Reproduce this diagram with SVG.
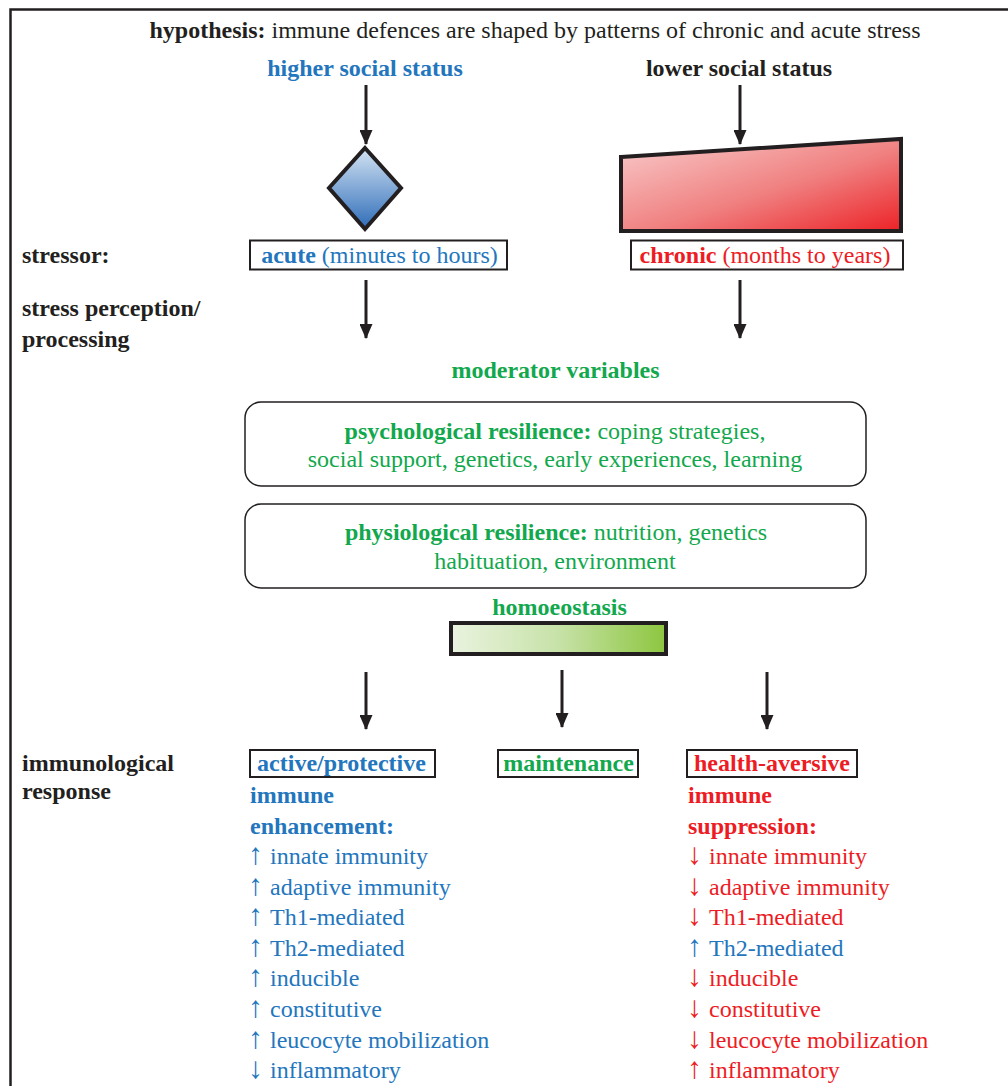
<svg xmlns="http://www.w3.org/2000/svg" width="1008" height="1086" viewBox="0 0 1008 1086">
<style>
text{font-family:"Liberation Serif","Times New Roman","DejaVu Serif",serif;font-size:24px;fill:#231f20}
.b{font-weight:bold}
.blue{fill:#2376bd}
.red{fill:#ed1c24}
.green{fill:#12a84d}
.mid{text-anchor:middle}
.arr{font-size:30px}
.box{fill:#fff;stroke:#231f20;stroke-width:2}
.rbox{fill:#fff;stroke:#231f20;stroke-width:1.5}
.conn{stroke:#231f20;stroke-width:3;fill:none;marker-end:url(#ah)}
</style>
<defs>
<marker id="ah" markerUnits="userSpaceOnUse" markerWidth="15" markerHeight="13" refX="14" refY="6.5" orient="auto" viewBox="0 0 15 13">
<path d="M0,0 L15,6.5 L0,13 Z" fill="#231f20"/>
</marker>
<linearGradient id="gBlue" x1="0" y1="0" x2="0" y2="1">
<stop offset="0" stop-color="#d4e4f3"/>
<stop offset="1" stop-color="#2e6cb8"/>
</linearGradient>
<linearGradient id="gRed" x1="0" y1="0" x2="1" y2="1">
<stop offset="0" stop-color="#f9cccc"/>
<stop offset="0.55" stop-color="#f08080"/>
<stop offset="1" stop-color="#ec2227"/>
</linearGradient>
<linearGradient id="gGreen" x1="0" y1="0" x2="1" y2="0">
<stop offset="0" stop-color="#eaf3df"/>
<stop offset="0.5" stop-color="#c7e2a8"/>
<stop offset="1" stop-color="#8dc63f"/>
</linearGradient>
</defs>
<rect width="1008" height="1086" fill="#fff"/>
<path d="M10.5,1086 V9.5 H1008" fill="none" stroke="#231f20" stroke-width="2.5"/>

<g id="hypothesis"><text x="535" y="38" class="mid"><tspan class="b">hypothesis:</tspan> immune defences are shaped by patterns of chronic and acute stress</text></g>
<g id="higher"><text x="365" y="76" class="mid b blue">higher social status</text></g>
<g id="lower"><text x="739" y="76" class="mid b">lower social status</text></g>

<g id="diamond"><polygon points="365,148 401,188 365,229 329,188" fill="url(#gBlue)" stroke="#231f20" stroke-width="4" stroke-linejoin="miter"/></g>
<g id="trapezoid"><polygon points="621,157 901,139 901,231 621,231" fill="url(#gRed)" stroke="#231f20" stroke-width="4"/></g>

<g id="labels-left">
<text x="22" y="263" class="b">stressor:</text>
<text x="22" y="316" class="b">stress perception/</text>
<text x="22" y="347" class="b">processing</text>
<text x="22" y="771" class="b">immunological</text>
<text x="22" y="799" class="b">response</text>
</g>

<g id="acute"><rect x="250" y="240.5" width="257" height="29" class="box"/>
<text x="379.5" y="263" class="mid blue"><tspan class="b">acute</tspan> (minutes to hours)</text></g>
<g id="chronic"><rect x="631" y="240.5" width="272" height="29" class="box"/>
<text x="765" y="263" class="mid red"><tspan class="b">chronic</tspan> (months to years)</text></g>

<g id="moderator"><text x="555.5" y="378" class="mid b green">moderator variables</text></g>
<g id="psych"><rect x="245" y="402" width="621" height="84" rx="16" class="rbox"/>
<text x="555" y="439" class="mid green"><tspan class="b">psychological resilience:</tspan> coping strategies,</text>
<text x="555" y="467" class="mid green">social support, genetics, early experiences, learning</text></g>
<g id="physio"><rect x="245" y="504" width="621" height="84" rx="16" class="rbox"/>
<text x="556" y="540" class="mid green"><tspan class="b">physiological resilience:</tspan> nutrition, genetics</text>
<text x="555" y="569" class="mid green">habituation, environment</text></g>

<g id="homoeostasis"><text x="559.5" y="615" class="mid b green">homoeostasis</text>
<rect x="451" y="623" width="215" height="31" fill="url(#gGreen)" stroke="#231f20" stroke-width="4"/></g>

<g id="active"><rect x="250" y="750" width="185" height="27" class="box"/><text x="341.5" y="771" class="mid b blue">active/protective</text></g>
<g id="maintenance"><rect x="498" y="750" width="140" height="27" class="box"/><text x="568.5" y="771" class="mid b green">maintenance</text></g>
<g id="aversive"><rect x="687" y="750" width="170" height="27" class="box"/><text x="772" y="771" class="mid b red">health-aversive</text></g>

<g id="enhancement">
<text x="250" y="803" class="b blue">immune</text>
<text x="250" y="834" class="b blue">enhancement:</text>
<text y="864" class="blue"><tspan x="248" class="arr">↑</tspan><tspan x="270">innate immunity</tspan></text>
<text y="895" class="blue"><tspan x="248" class="arr">↑</tspan><tspan x="270">adaptive immunity</tspan></text>
<text y="925" class="blue"><tspan x="248" class="arr">↑</tspan><tspan x="270">Th1-mediated</tspan></text>
<text y="956" class="blue"><tspan x="248" class="arr">↑</tspan><tspan x="270">Th2-mediated</tspan></text>
<text y="986" class="blue"><tspan x="248" class="arr">↑</tspan><tspan x="270">inducible</tspan></text>
<text y="1017" class="blue"><tspan x="248" class="arr">↑</tspan><tspan x="270">constitutive</tspan></text>
<text y="1048" class="blue"><tspan x="248" class="arr">↑</tspan><tspan x="270">leucocyte mobilization</tspan></text>
<text y="1078" class="blue"><tspan x="248" class="arr">↓</tspan><tspan x="270">inflammatory</tspan></text>
</g>
<g id="suppression">
<text x="688" y="803" class="b red">immune</text>
<text x="688" y="834" class="b red">suppression:</text>
<text y="864" class="red"><tspan x="687" class="arr">↓</tspan><tspan x="709">innate immunity</tspan></text>
<text y="895" class="red"><tspan x="687" class="arr">↓</tspan><tspan x="709">adaptive immunity</tspan></text>
<text y="925" class="red"><tspan x="687" class="arr">↓</tspan><tspan x="709">Th1-mediated</tspan></text>
<text y="956" class="blue"><tspan x="687" class="arr">↑</tspan><tspan x="709">Th2-mediated</tspan></text>
<text y="986" class="red"><tspan x="687" class="arr">↓</tspan><tspan x="709">inducible</tspan></text>
<text y="1017" class="red"><tspan x="687" class="arr">↓</tspan><tspan x="709">constitutive</tspan></text>
<text y="1048" class="red"><tspan x="687" class="arr">↓</tspan><tspan x="709">leucocyte mobilization</tspan></text>
<text y="1078" class="red"><tspan x="687" class="arr">↑</tspan><tspan x="709">inflammatory</tspan></text>
</g>

<g id="connectors">
<line x1="366" y1="85" x2="366" y2="144" class="conn"/>
<line x1="740" y1="85" x2="740" y2="144" class="conn"/>
<line x1="366" y1="280" x2="366" y2="338" class="conn"/>
<line x1="740" y1="280" x2="740" y2="338" class="conn"/>
<line x1="366" y1="672" x2="366" y2="729" class="conn"/>
<line x1="562" y1="670" x2="562" y2="727" class="conn"/>
<line x1="767" y1="672" x2="767" y2="729" class="conn"/>
</g>
</svg>
